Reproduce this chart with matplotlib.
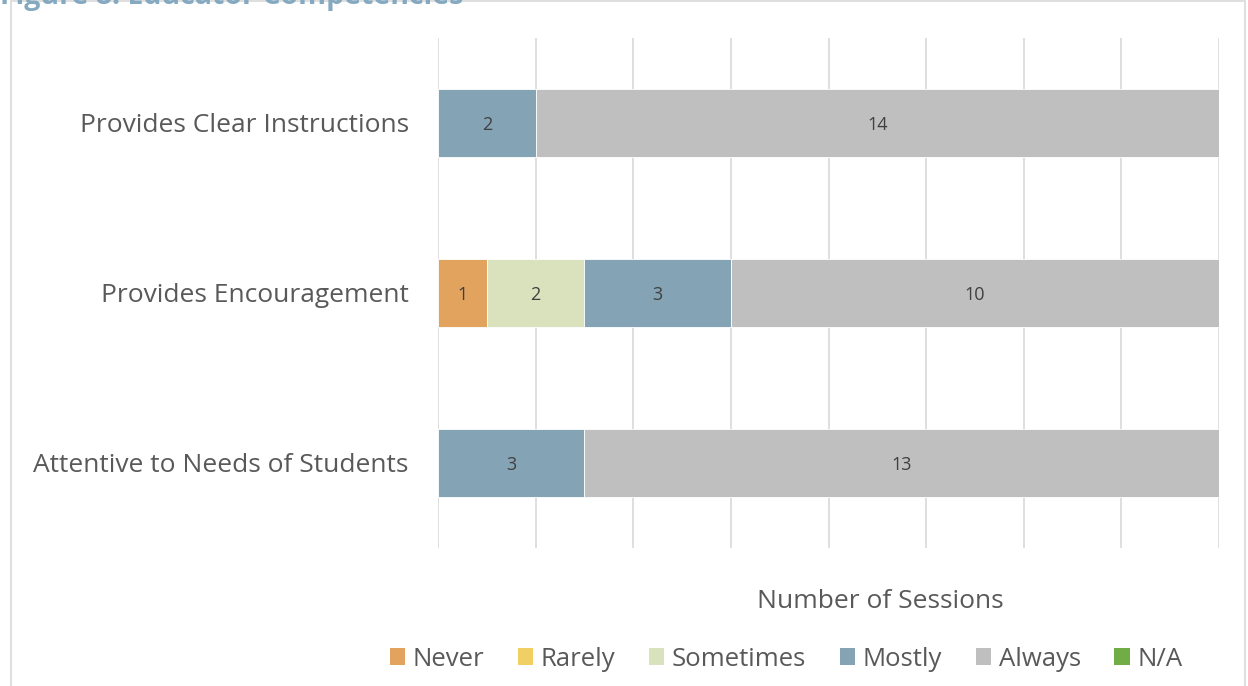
import matplotlib
matplotlib.use('Agg')
import matplotlib.pyplot as plt
from matplotlib.patches import Rectangle, Patch

# donnees : nombre de seances par niveau
categories = ['Attentive to Needs of Students', 'Provides Encouragement', 'Provides Clear Instructions']
niveaux = ['Never', 'Rarely', 'Sometimes', 'Mostly', 'Always', 'N/A']
never = [0, 1, 0]
rarely = [0, 0, 0]
sometimes = [0, 2, 0]
mostly = [3, 3, 2]
always = [13, 10, 14]
na = [0, 0, 0]
couleurs = ['#e2a35e', '#f0cf64', '#d9e1bd', '#84a3b4', '#bfbfbf', '#70ad47']

plt.rcParams['font.family'] = ['Open Sans', 'DejaVu Sans']

fig = plt.figure(figsize=(12.48, 6.86), dpi=100)

# cadre du graphique
fig.patches.append(Rectangle((11 / 1248, -0.01), (1245 - 11) / 1248, 1.01 - 8 / 686 + 0.01,
                             transform=fig.transFigure, fill=False, ec='#d9d9d9', lw=1.2))

fig.text(0.0, 1 - 4 / 686, 'Figure 8: Educator Competencies', fontsize=20.5, fontweight='bold',
         color='#84a9c0', va='baseline', ha='left')

ax = fig.add_axes([438 / 1248, 138 / 686, (1219 - 438) / 1248, 510 / 686])

series = [never, rarely, sometimes, mostly, always, na]
left = [0, 0, 0]
for valeurs, coul in zip(series, couleurs):
    barres = ax.barh(categories, valeurs, left=left, height=0.4, color=coul, edgecolor='white', lw=0.6)
    for b, v in zip(barres, valeurs):
        if v > 0:
            ax.text(b.get_x() + b.get_width() / 2, b.get_y() + b.get_height() / 2 - 0.01, str(v),
                    ha='center', va='center', fontsize=13, color='#404040')
    left = [l + v for l, v in zip(left, valeurs)]

ax.set_xlim(0, 16)
ax.set_ylim(-0.5, 2.5)
ax.set_xticks(range(0, 17, 2))
ax.tick_params(axis='x', length=0, labelbottom=False)
ax.tick_params(axis='y', length=0, labelsize=19, labelcolor='#595959', pad=21)
ax.grid(axis='x', color='#d9d9d9', lw=1.2)
ax.set_axisbelow(True)
for s in ax.spines.values():
    s.set_visible(False)

fig.text(880 / 1248, 1 - 602 / 686, 'Number of Sessions', fontsize=19, color='#595959',
         ha='center', va='center')

poignees = [Patch(facecolor=c, label=n) for c, n in zip(couleurs, niveaux)]
fig.legend(handles=poignees, loc='center', bbox_to_anchor=(786 / 1248, 1 - 659 / 686), ncol=6,
           frameon=False, fontsize=18.5, labelcolor='#595959', handlelength=0.6, handleheight=0.6,
           handletextpad=0.3, columnspacing=1.3)

fig.savefig('out.png', dpi=100)
